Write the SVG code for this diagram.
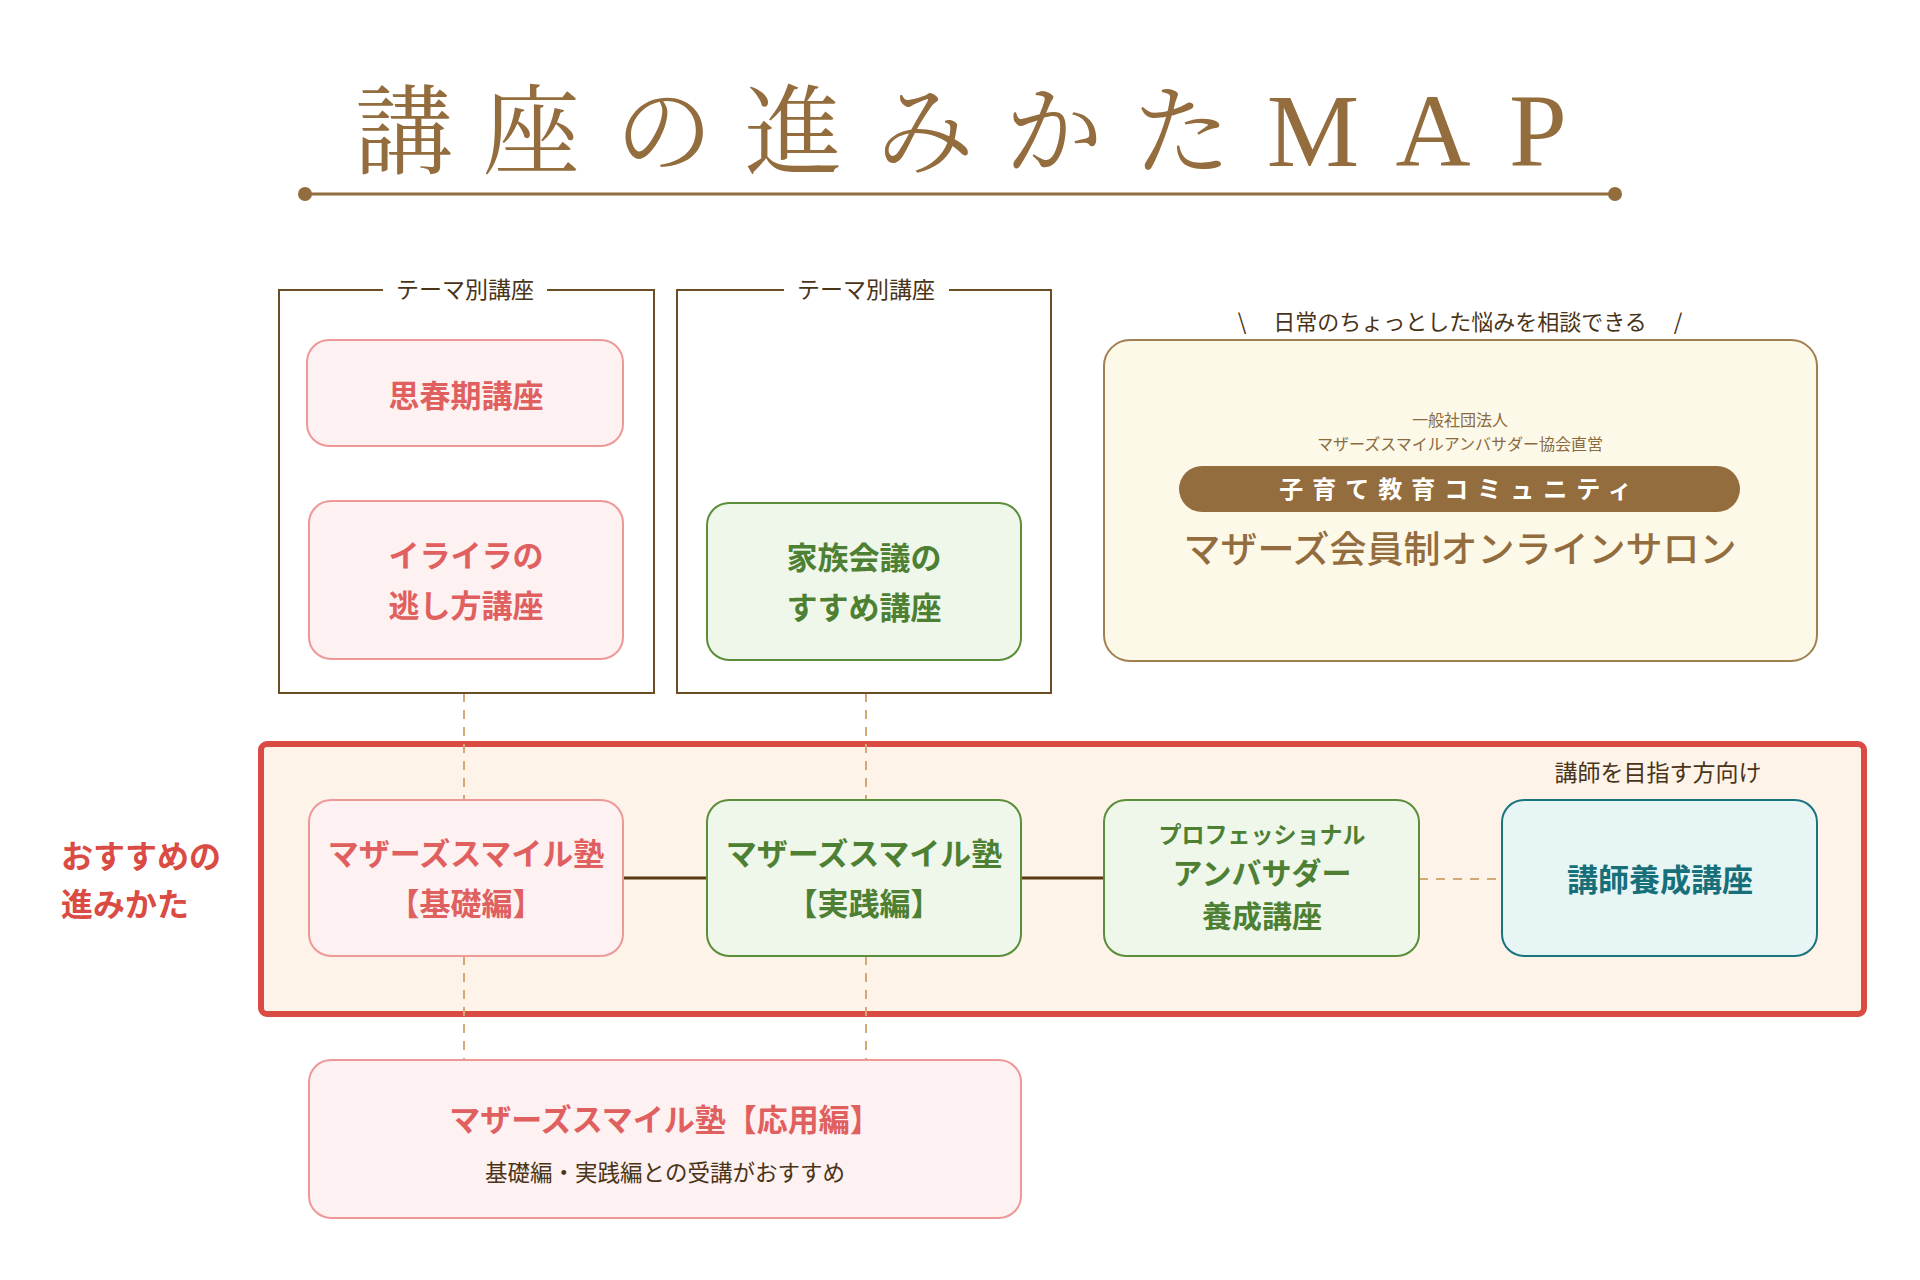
<svg xmlns="http://www.w3.org/2000/svg" width="1920" height="1280" viewBox="0 0 1920 1280">
<style>
text{font-family:"Noto Sans CJK JP","Noto Sans",sans-serif;}
.title{font-family:"Noto Serif CJK JP","Noto Sans CJK JP",serif;font-size:98px;fill:#946D3E;font-weight:400;}
.titleL{font-family:"Liberation Serif","Noto Serif CJK JP",serif;font-size:104px;fill:#946D3E;}
.theme{fill:none;stroke:#6B4E24;stroke-width:2;}
.lbl{font-size:22px;fill:#4A3418;}
.pink{fill:#FDF1F1;stroke:#EE9898;stroke-width:2;}
.green{fill:#EEF7EA;stroke:#5A8E3A;stroke-width:2;}
.teal{fill:#E8F5F5;stroke:#1A7480;stroke-width:2;}
.tp{fill:#E0605F;font-weight:700;font-size:31px;}
.tg{fill:#4E8033;font-weight:700;font-size:31px;}
.tt{fill:#16707A;font-weight:700;font-size:31px;}
.solid{stroke:#5A3A10;stroke-width:3;fill:none;}
.dash{stroke:#D2A877;stroke-width:2;stroke-dasharray:9 8;fill:none;}
</style>

<g id="title">
<text class="title" y="166" text-anchor="middle" x="404 531 664 793 925 1054 1182">講座の進みかた</text>
<text class="titleL" y="166" text-anchor="middle" x="1313 1433 1538">MAP</text>
<line x1="305" y1="194" x2="1615" y2="194" stroke="#946D3E" stroke-width="3"/>
<circle cx="305" cy="194" r="7" fill="#946D3E"/>
<circle cx="1615" cy="194" r="7" fill="#946D3E"/>
</g>

<g id="band">
<rect x="261" y="744" width="1603" height="270" rx="6" fill="#FDF3E8" stroke="#D94B43" stroke-width="6"/>
<text x="61" y="868" font-size="32" font-weight="700" fill="#D94B43">おすすめの</text>
<text x="61" y="916" font-size="32" font-weight="700" fill="#D94B43">進みかた</text>
<text class="lbl" x="1658" y="781" text-anchor="middle" style="font-size:23px">講師を目指す方向け</text>
</g>

<g id="connectors">
<line class="dash" x1="464" y1="693" x2="464" y2="800"/>
<line class="dash" x1="464" y1="956" x2="464" y2="1060"/>
<line class="dash" x1="866" y1="693" x2="866" y2="800"/>
<line class="dash" x1="866" y1="956" x2="866" y2="1060"/>
<line class="solid" x1="623" y1="878" x2="707" y2="878"/>
<line class="solid" x1="1021" y1="878" x2="1104" y2="878"/>
<line class="dash" x1="1419" y1="879" x2="1502" y2="879"/>
</g>

<g id="theme1">
<path class="theme" d="M383 290 H279 V693 H654 V290 H547"/>
<text class="lbl" x="465" y="298" text-anchor="middle" style="font-size:23px">テーマ別講座</text>
</g>
<g id="theme2">
<path class="theme" d="M784 290 H677 V693 H1051 V290 H949"/>
<text class="lbl" x="866" y="298" text-anchor="middle" style="font-size:23px">テーマ別講座</text>
</g>

<g id="shishunki">
<rect class="pink" x="307" y="340" width="316" height="106" rx="22"/>
<text class="tp" x="466" y="407" text-anchor="middle">思春期講座</text>
</g>
<g id="iraira">
<rect class="pink" x="309" y="501" width="314" height="158" rx="22"/>
<text class="tp" x="466" y="567" text-anchor="middle">イライラの</text>
<text class="tp" x="466" y="617" text-anchor="middle">逃し方講座</text>
</g>
<g id="kazoku">
<rect class="green" x="707" y="503" width="314" height="157" rx="22"/>
<text class="tg" x="864" y="569" text-anchor="middle">家族会議の</text>
<text class="tg" x="864" y="619" text-anchor="middle">すすめ講座</text>
</g>

<g id="salon">
<text class="lbl" x="1460" y="330" text-anchor="middle" xml:space="preserve">\　 日常のちょっとした悩みを相談できる　 /</text>
<rect x="1104" y="340" width="713" height="321" rx="26" fill="#FDF9E8" stroke="#A08050" stroke-width="2"/>
<text x="1460" y="426" text-anchor="middle" font-size="16" fill="#8A6A40">一般社団法人</text>
<text x="1460" y="450" text-anchor="middle" font-size="16" fill="#8A6A40">マザーズスマイルアンバサダー協会直営</text>
<rect x="1179" y="466" width="561" height="46" rx="23" fill="#946D3E"/>
<text x="1460" y="498" text-anchor="middle" font-size="24" font-weight="700" fill="#FFFFFF" letter-spacing="9">子育て教育コミュニティ</text>
<text x="1460" y="563" text-anchor="middle" font-size="37" font-weight="500" fill="#946D3E">マザーズ会員制オンラインサロン</text>
</g>

<g id="kiso">
<rect class="pink" x="309" y="800" width="314" height="156" rx="22"/>
<text class="tp" x="466" y="865" text-anchor="middle">マザーズスマイル塾</text>
<text class="tp" x="466" y="915" text-anchor="middle">【基礎編】</text>
</g>
<g id="jissen">
<rect class="green" x="707" y="800" width="314" height="156" rx="22"/>
<text class="tg" x="864" y="865" text-anchor="middle">マザーズスマイル塾</text>
<text class="tg" x="864" y="915" text-anchor="middle">【実践編】</text>
</g>
<g id="ambassador">
<rect class="green" x="1104" y="800" width="315" height="156" rx="22"/>
<text class="tg" x="1262" y="843" text-anchor="middle" style="font-size:23px">プロフェッショナル</text>
<text class="tg" x="1262" y="884" text-anchor="middle" style="font-size:30px">アンバサダー</text>
<text class="tg" x="1262" y="927" text-anchor="middle" style="font-size:30px">養成講座</text>
</g>
<g id="koshi">
<rect class="teal" x="1502" y="800" width="315" height="156" rx="22"/>
<text class="tt" x="1660" y="891" text-anchor="middle">講師養成講座</text>
</g>

<g id="ouyou">
<rect class="pink" x="309" y="1060" width="712" height="158" rx="22"/>
<text class="tp" x="665" y="1131" text-anchor="middle">マザーズスマイル塾【応用編】</text>
<text x="665" y="1181" text-anchor="middle" font-size="22.5" fill="#4A3418">基礎編・実践編との受講がおすすめ</text>
</g>
</svg>
